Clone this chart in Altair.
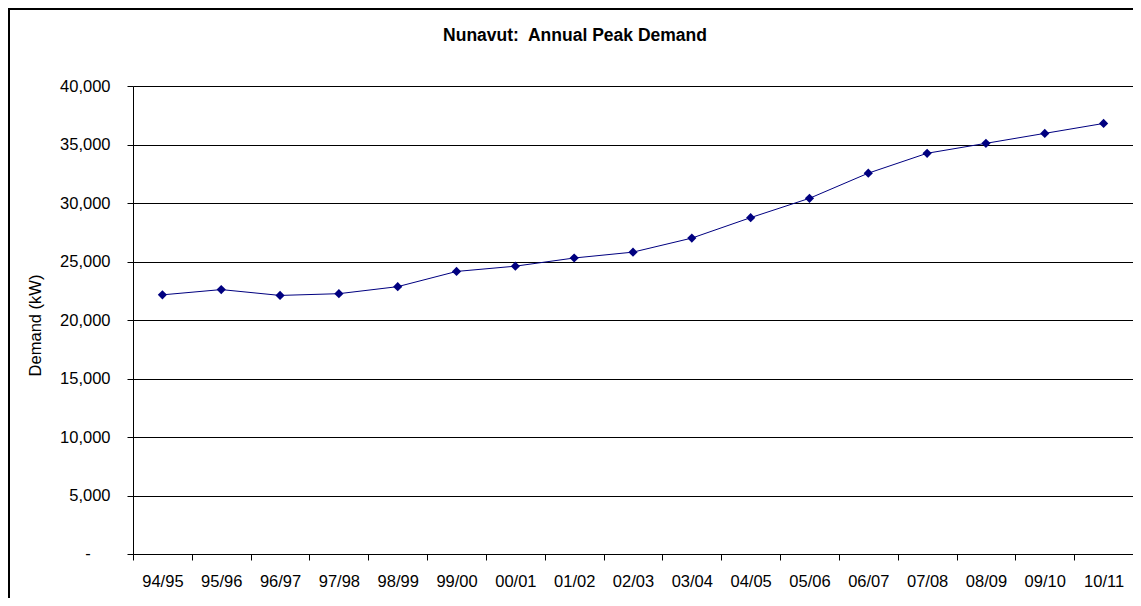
import altair as alt
import pandas as pd

years = ["94/95", "95/96", "96/97", "97/98", "98/99", "99/00", "00/01", "01/02",
         "02/03", "03/04", "04/05", "05/06", "06/07", "07/08", "08/09", "09/10", "10/11"]
demand = [22150, 22600, 22100, 22250, 22850, 24150, 24600, 25300,
          25800, 27000, 28750, 30400, 32550, 34250, 35100, 35950, 36800]
zero_label = ["-"]

df = pd.DataFrame({"year": years, "demand": demand})

FONT = "Liberation Sans"
NAVY = "#000080"

x_enc = alt.X(
    "year:N", sort=years, title=None,
    scale=alt.Scale(type="band", paddingInner=0, paddingOuter=0),
    axis=alt.Axis(labelAngle=0, tickBand="extent", tickSize=6, tickColor="#000",
                  domainColor="#000", labelPadding=13, labelFontSize=16.5,
                  labelFont=FONT, labelColor="#000", grid=False),
)
y_enc = alt.Y(
    "demand:Q", title="Demand (kW)",
    scale=alt.Scale(domain=[0, 40000], nice=False),
    axis=alt.Axis(values=list(range(0, 40001, 5000)),
                  labelExpr="datum.value == 0 ? '' : format(datum.value, ',')",
                  tickSize=6, tickColor="#000", domainColor="#000",
                  gridColor="#000", gridWidth=1, labelPadding=17,
                  labelFontSize=16.5, labelFont=FONT, labelColor="#000",
                  titleFont=FONT, titleFontSize=16.5, titleFontWeight="normal",
                  titleColor="#000", titleAngle=-90, titleX=-98, titleY=239,
                  titleAlign="center", titleBaseline="middle"),
)

line = alt.Chart(df).mark_line(color=NAVY, strokeWidth=1).encode(x=x_enc, y=y_enc)
pts = alt.Chart(df).mark_point(shape="diamond", filled=True, color=NAVY, size=85, opacity=1).encode(
    x=alt.X("year:N", sort=years), y="demand:Q")

zero = alt.Chart(pd.DataFrame({"demand": [0], "lab": zero_label})).mark_text(
    font=FONT, fontSize=16.5, color="#000", align="center", baseline="middle").encode(
    y=alt.Y("demand:Q"), x=alt.value(-45), text="lab:N")

frame = alt.Chart(pd.DataFrame({"a": [0]})).mark_rect(
    fill="transparent", stroke="#000", strokeWidth=2).encode(
    x=alt.value(-124), x2=alt.value(1030), y=alt.value(-77), y2=alt.value(540))

chart = alt.layer(line, pts, zero, frame).properties(
    width=1000, height=468,
    autosize=alt.AutoSizeParams(type="none"),
    padding={"left": 125, "top": 78, "right": 0, "bottom": 44},
    title=alt.TitleParams("Nunavut:\u00a0 Annual Peak Demand", font=FONT, fontSize=17.5,
                          fontWeight="bold", color="#000", anchor="middle",
                          dx=-58, dy=40, offset=4),
).configure_view(stroke="#808080", strokeWidth=1).configure(background="white")

chart.save("out.html", embed_options={"renderer": "svg", "actions": False})
